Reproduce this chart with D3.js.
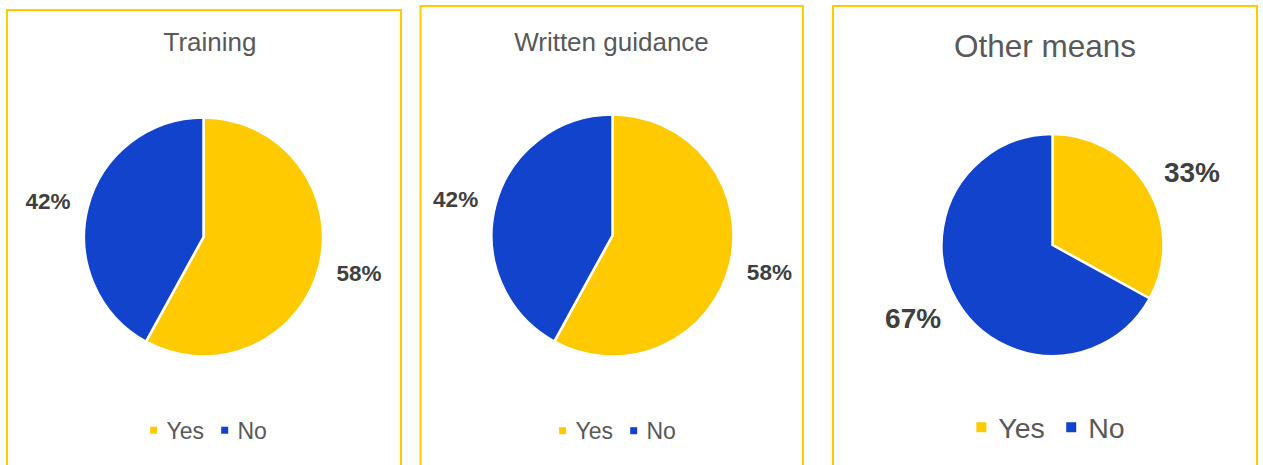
<!DOCTYPE html>
<html>
<head>
<meta charset="utf-8">
<script src="https://cdn.jsdelivr.net/npm/d3@7"></script>
<style>
  html, body { margin: 0; padding: 0; background: #fff; }
  svg { display: block; font-family: "Liberation Sans", Arial, sans-serif; }
</style>
</head>
<body>
<div id="chart"></div>
<script>
// data
const titles = ["Training", "Written guidance", "Other means"];
const categories = ["Yes", "No"];
const trainingValues = [58, 42];
const writtenValues = [58, 42];
const otherValues = [33, 67];
const seriesValues = [trainingValues, writtenValues, otherValues];
const colors = ["#FFCA00", "#1143CC"];

// layout of each panel (frame, pie, text sizes)
const panels = [
  { x0: 7, y0: 10, x1: 401, cx: 203.5, cy: 237, r: 119.5, titleX: 210, titleY: 50.5,
    titleSize: 26, labelSize: 22.5, legendX: 208.5, legendY: 438.5, legendSize: 23, box: 7 },
  { x0: 420.5, y0: 6, x1: 803, cx: 612.5, cy: 235.5, r: 121, titleX: 611.5, titleY: 51,
    titleSize: 26, labelSize: 22.5, legendX: 617.5, legendY: 439, legendSize: 23, box: 7 },
  { x0: 833, y0: 6, x1: 1257, cx: 1052.5, cy: 245, r: 111, titleX: 1045, titleY: 56.5,
    titleSize: 31.5, labelSize: 28, legendX: 1050.5, legendY: 437.5, legendSize: 28.5, box: 10 }
];

const width = 1263, height = 465;

const svg = d3.select('#chart')
  .append('svg')
  .attr('width', width)
  .attr('height', height);

const pie = d3.pie().sort(null).value(d => d);

panels.forEach((p, i) => {
  const g = svg.append('g');

  // yellow frame, runs off the bottom of the picture
  g.append('rect')
    .attr('x', p.x0)
    .attr('y', p.y0)
    .attr('width', p.x1 - p.x0)
    .attr('height', height + 20 - p.y0)
    .attr('fill', 'none')
    .attr('stroke', '#FFCC00')
    .attr('stroke-width', 2);

  g.append('text')
    .attr('x', p.titleX)
    .attr('y', p.titleY)
    .attr('text-anchor', 'middle')
    .attr('font-size', p.titleSize)
    .attr('fill', '#595959')
    .text(titles[i]);

  const arcs = pie(seriesValues[i]);
  const arc = d3.arc().innerRadius(0).outerRadius(p.r);

  const pieG = g.append('g')
    .attr('transform', `translate(${p.cx},${p.cy})`);

  pieG.selectAll('path')
    .data(arcs)
    .join('path')
    .attr('d', arc)
    .attr('fill', (d, j) => colors[j])
    .attr('stroke', '#fff')
    .attr('stroke-width', 2.5)
    .attr('stroke-linejoin', 'round');

  // outside-end labels: the box sits just outside radius R, pushed out by half its size
  const R = p.r + p.labelSize * 0.82;
  pieG.selectAll('text')
    .data(arcs)
    .join('text')
    .attr('text-anchor', 'middle')
    .attr('dy', '0.36em')
    .attr('font-size', p.labelSize)
    .attr('font-weight', 'bold')
    .attr('fill', '#404040')
    .text(d => d.data + '%')
    .each(function (d) {
      const a = (d.startAngle + d.endAngle) / 2;
      const w = this.getComputedTextLength();
      const h = p.labelSize * 0.72;
      const x = Math.sin(a) * (R + w / 2);
      const y = -Math.cos(a) * (R + h / 2);
      d3.select(this).attr('transform', `translate(${x},${y})`);
    });

  // legend, centred on legendX
  const legend = g.append('g');
  let cursor = 0;
  const gapBox = p.box * 0.9 + 3;
  const gapItem = p.legendSize * 0.75;
  categories.forEach((c, j) => {
    legend.append('rect')
      .attr('x', cursor)
      .attr('y', p.legendY - p.legendSize * 0.36 - p.box / 2)
      .attr('width', p.box)
      .attr('height', p.box)
      .attr('fill', colors[j]);
    cursor += p.box + gapBox;
    const t = legend.append('text')
      .attr('x', cursor)
      .attr('y', p.legendY)
      .attr('font-size', p.legendSize)
      .attr('fill', '#595959')
      .text(c);
    cursor += t.node().getComputedTextLength();
    if (j < categories.length - 1) cursor += gapItem;
  });
  legend.attr('transform', `translate(${p.legendX - cursor / 2},0)`);
});
</script>
</body>
</html>
